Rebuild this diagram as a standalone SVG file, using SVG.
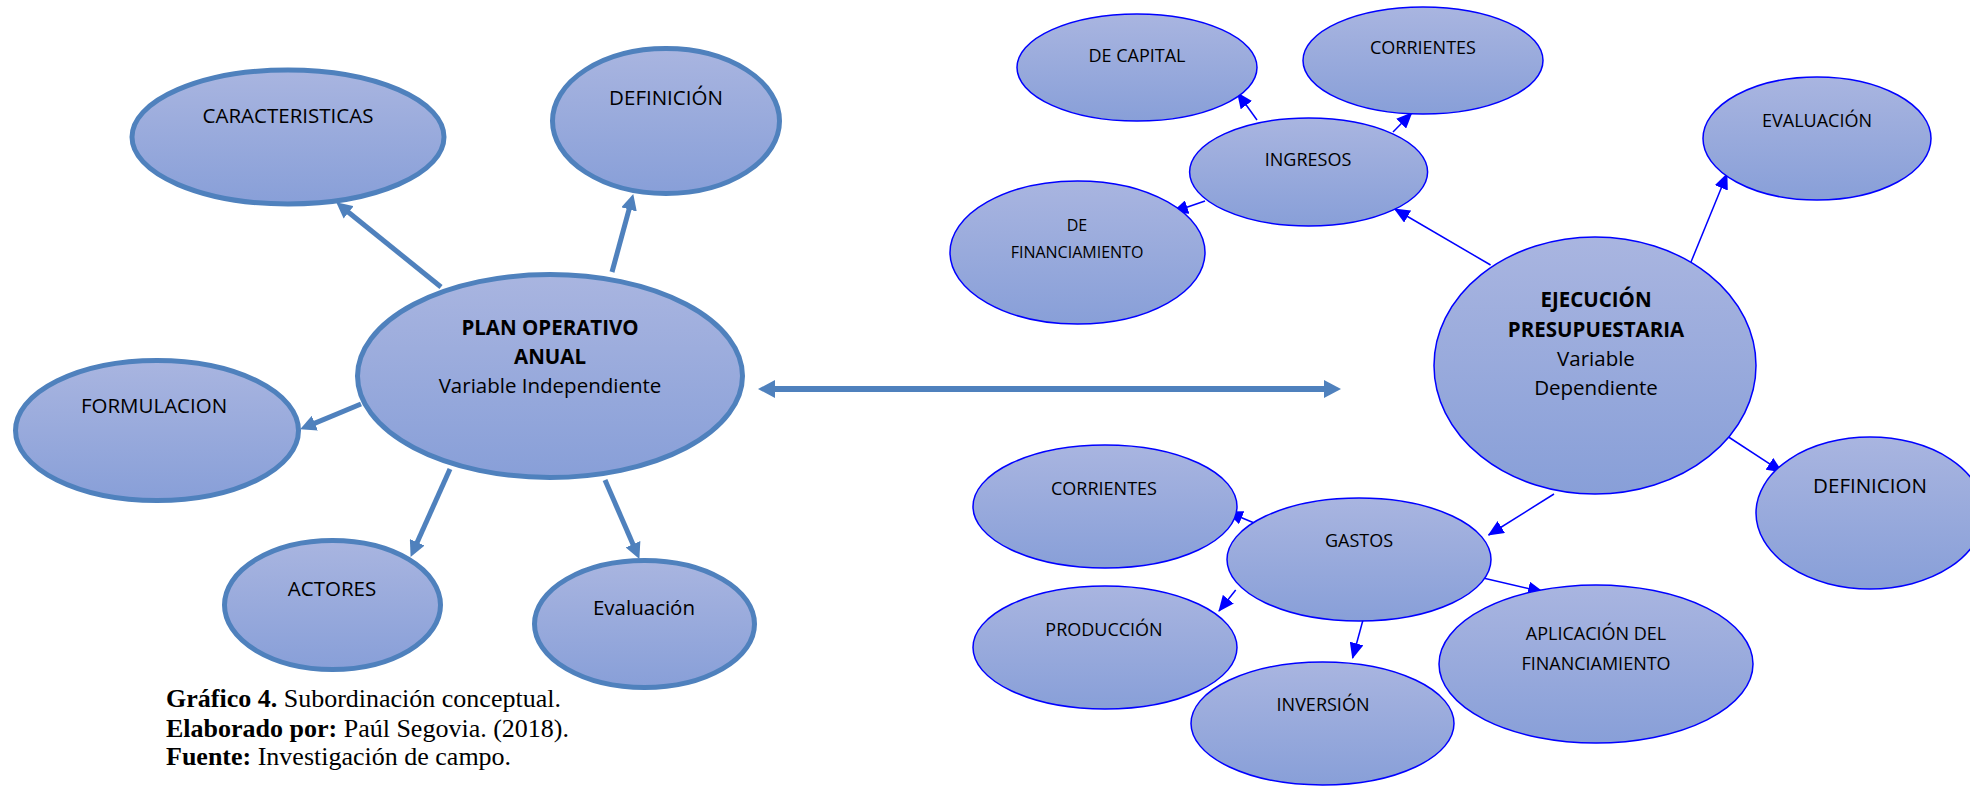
<svg xmlns="http://www.w3.org/2000/svg" width="1970" height="786" viewBox="0 0 1970 786">
  <style>
    .lbl { font-family: "Open Sans", "Liberation Sans", sans-serif; fill: #000; text-anchor: middle; }
    .big { font-size: 20.5px; }
    .mid { font-size: 18px; }
    .sml { font-size: 16px; }
    .b { font-weight: bold; }
    .nodeL { fill: url(#fillGrad); stroke: #4F81BD; stroke-width: 5; }
    .nodeR { fill: url(#fillGrad); stroke: #0000FF; stroke-width: 1.5; }
    .linkL { stroke: #4F81BD; stroke-width: 5; fill: none; marker-end: url(#headL); }
    .linkR { stroke: #0000FF; stroke-width: 1.5; fill: none; marker-end: url(#headR); }
    .cap { font-family: "Liberation Serif", "Times New Roman", serif; font-size: 26px; fill: #000; }
  </style>
  <defs>
    <linearGradient id="fillGrad" x1="0" y1="0" x2="0" y2="1">
      <stop offset="0" stop-color="#A9B5E0"/>
      <stop offset="1" stop-color="#889FD8"/>
    </linearGradient>
    <marker id="headL" markerUnits="userSpaceOnUse" markerWidth="16" markerHeight="16" refX="7" refY="8" orient="auto">
      <path d="M0,0 L16,8 L0,16 z" fill="#4F81BD"/>
    </marker>
    <marker id="headDbl" markerUnits="userSpaceOnUse" markerWidth="17" markerHeight="18" refX="8" refY="9" orient="auto-start-reverse">
      <path d="M0,0 L17,9 L0,18 z" fill="#4F81BD"/>
    </marker>
    <marker id="headR" markerUnits="userSpaceOnUse" markerWidth="16" markerHeight="14" refX="15" refY="7" orient="auto">
      <path d="M0,0 L16,7 L0,14 z" fill="#0000FF"/>
    </marker>
  </defs>

  <!-- connectors -->
  <g id="connectors">
    <line class="linkL" x1="441" y1="287" x2="343.2" y2="208"/>
    <line class="linkL" x1="612" y1="272" x2="630.9" y2="202.7"/>
    <line class="linkL" x1="361" y1="404" x2="308.4" y2="425.9"/>
    <line class="linkL" x1="450" y1="469" x2="414.3" y2="548.7"/>
    <line class="linkL" x1="605" y1="480" x2="635.8" y2="550.7"/>
    <line x1="767" y1="389" x2="1332" y2="389" stroke="#4F81BD" stroke-width="6" marker-start="url(#headDbl)" marker-end="url(#headDbl)"/>

    <line class="linkR" x1="1490.6" y1="265" x2="1394.7" y2="209"/>
    <line class="linkR" x1="1691" y1="262" x2="1727" y2="174"/>
    <line class="linkR" x1="1257" y1="120" x2="1237.6" y2="93"/>
    <line class="linkR" x1="1393" y1="132" x2="1411.7" y2="113"/>
    <line class="linkR" x1="1205" y1="201" x2="1173" y2="212"/>
    <line class="linkR" x1="1554" y1="494" x2="1488.6" y2="535"/>
    <line class="linkR" x1="1727" y1="436" x2="1782" y2="472"/>
    <line class="linkR" x1="1256.7" y1="524" x2="1227.8" y2="512"/>
    <line class="linkR" x1="1235.7" y1="590" x2="1219" y2="611"/>
    <line class="linkR" x1="1363.8" y1="617" x2="1352.6" y2="658"/>
    <line class="linkR" x1="1478.8" y1="577" x2="1543" y2="592"/>
  </g>

  <!-- Plan Operativo Anual branch -->
  <g id="plan-operativo">
    <ellipse class="nodeL" cx="550" cy="376" rx="192.5" ry="101.5"/>
    <text class="lbl big b" x="550" y="335">PLAN OPERATIVO</text>
    <text class="lbl big b" x="550" y="364">ANUAL</text>
    <text class="lbl big" x="550" y="393">Variable Independiente</text>
  </g>
  <g id="caracteristicas">
    <ellipse class="nodeL" cx="288" cy="137" rx="156" ry="67"/>
    <text class="lbl big" x="288" y="123">CARACTERISTICAS</text>
  </g>
  <g id="definicion-plan">
    <ellipse class="nodeL" cx="666" cy="121" rx="113.5" ry="72.5"/>
    <text class="lbl big" x="666" y="105">DEFINICIÓN</text>
  </g>
  <g id="formulacion">
    <ellipse class="nodeL" cx="157" cy="430.5" rx="141.5" ry="70"/>
    <text class="lbl big" x="154" y="413">FORMULACION</text>
  </g>
  <g id="actores">
    <ellipse class="nodeL" cx="332.5" cy="605" rx="108" ry="64.5"/>
    <text class="lbl big" x="332" y="596">ACTORES</text>
  </g>
  <g id="evaluacion-plan">
    <ellipse class="nodeL" cx="644.5" cy="624" rx="110" ry="63.5"/>
    <text class="lbl big" x="644" y="615">Evaluación</text>
  </g>

  <!-- Ejecución Presupuestaria branch -->
  <g id="ejecucion">
    <ellipse class="nodeR" cx="1595" cy="365.5" rx="161" ry="128.5"/>
    <text class="lbl big b" x="1596" y="307">EJECUCIÓN</text>
    <text class="lbl big b" x="1596" y="337">PRESUPUESTARIA</text>
    <text class="lbl big" x="1596" y="366">Variable</text>
    <text class="lbl big" x="1596" y="395">Dependiente</text>
  </g>
  <g id="de-capital">
    <ellipse class="nodeR" cx="1137" cy="67.5" rx="120" ry="53.5"/>
    <text class="lbl mid" x="1137" y="61.5">DE CAPITAL</text>
  </g>
  <g id="ingresos-corrientes">
    <ellipse class="nodeR" cx="1423" cy="60.5" rx="120" ry="53.5"/>
    <text class="lbl mid" x="1423" y="53.5">CORRIENTES</text>
  </g>
  <g id="ingresos">
    <ellipse class="nodeR" cx="1308.6" cy="172" rx="119" ry="54"/>
    <text class="lbl mid" x="1308" y="165.5">INGRESOS</text>
  </g>
  <g id="de-financiamiento">
    <ellipse class="nodeR" cx="1077.5" cy="252.5" rx="127.5" ry="71.5"/>
    <text class="lbl sml" x="1077" y="231">DE</text>
    <text class="lbl sml" x="1077" y="257.5">FINANCIAMIENTO</text>
  </g>
  <g id="evaluacion-ejec">
    <ellipse class="nodeR" cx="1817" cy="138.5" rx="114" ry="61.5"/>
    <text class="lbl mid" x="1817" y="126.5">EVALUACIÓN</text>
  </g>
  <g id="definicion-ejec">
    <ellipse class="nodeR" cx="1870" cy="513" rx="114" ry="76"/>
    <text class="lbl big" x="1870" y="493">DEFINICION</text>
  </g>
  <g id="gastos-corrientes">
    <ellipse class="nodeR" cx="1105" cy="506.5" rx="132" ry="61.5"/>
    <text class="lbl mid" x="1104" y="494.5">CORRIENTES</text>
  </g>
  <g id="gastos">
    <ellipse class="nodeR" cx="1359" cy="559.5" rx="132" ry="61.5"/>
    <text class="lbl mid" x="1359" y="546.5">GASTOS</text>
  </g>
  <g id="produccion">
    <ellipse class="nodeR" cx="1105" cy="647.5" rx="132" ry="61.5"/>
    <text class="lbl mid" x="1104" y="635.5">PRODUCCIÓN</text>
  </g>
  <g id="inversion">
    <ellipse class="nodeR" cx="1322.5" cy="723.5" rx="131.5" ry="61.5"/>
    <text class="lbl mid" x="1323" y="710.5">INVERSIÓN</text>
  </g>
  <g id="aplicacion">
    <ellipse class="nodeR" cx="1596" cy="664" rx="157" ry="79"/>
    <text class="lbl mid" x="1596" y="639.5">APLICACIÓN DEL</text>
    <text class="lbl mid" x="1596" y="669.5">FINANCIAMIENTO</text>
  </g>

  <!-- caption -->
  <g id="caption">
    <text class="cap" x="166" y="707"><tspan font-weight="bold">Gráfico 4.</tspan> Subordinación conceptual.</text>
    <text class="cap" x="166" y="737"><tspan font-weight="bold">Elaborado por:</tspan> Paúl Segovia. (2018).</text>
    <text class="cap" x="166" y="765"><tspan font-weight="bold">Fuente:</tspan> Investigación de campo.</text>
  </g>
</svg>
